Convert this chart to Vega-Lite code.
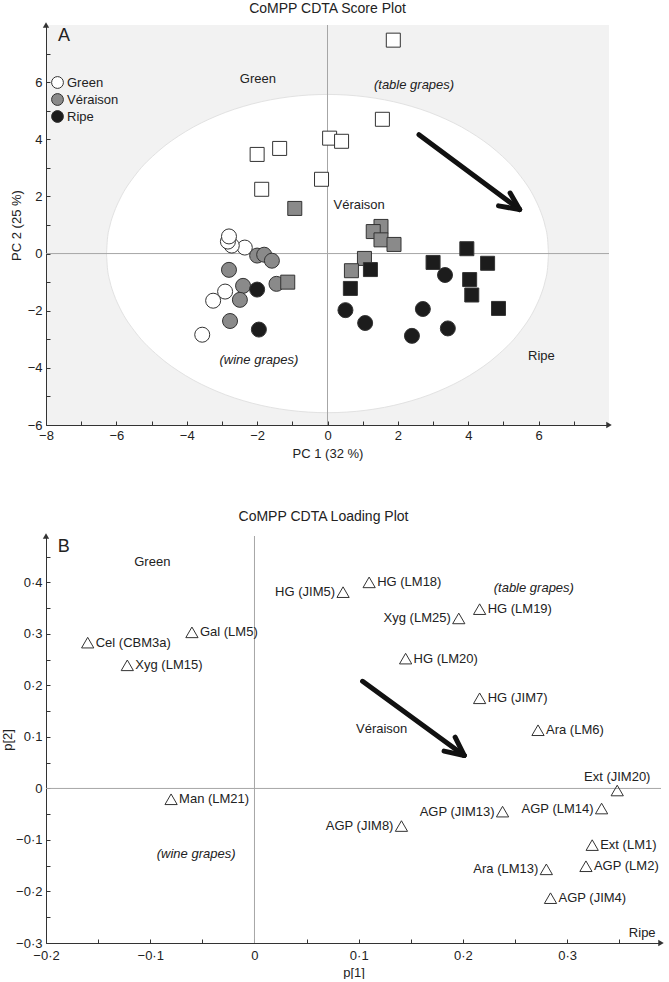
{
  "$schema": "https://vega.github.io/schema/vega-lite/v6.json",
  "padding": {"left": 1, "top": 2, "right": 0, "bottom": 0},
  "config": {
    "font": "Liberation Sans",
    "view": {"stroke": null},
    "axis": {"grid": false, "domainColor": "#333333", "tickColor": "#333333", "labelColor": "#222222", "titleColor": "#222222", "labelFontSize": 13, "titleFontSize": 13, "titleFontWeight": "normal", "tickSize": -4, "labelFlush": false, "labelOverlap": false, "domainWidth": 1, "tickWidth": 1},
    "axisX": {"labelPadding": 8},
    "axisY": {"labelPadding": 8},
    "title": {"fontSize": 14, "fontWeight": "normal", "color": "#222222"},
    "text": {"fontSize": 13, "color": "#222222"}
  },
  "datasets": {
    "ellipse": [
      {"x": -6.28, "y": 0, "y2": 0},
      {"x": -6.256, "y": 0.486, "y2": -0.486},
      {"x": -6.185, "y": 0.967, "y2": -0.967},
      {"x": -6.066, "y": 1.442, "y2": -1.442},
      {"x": -5.901, "y": 1.905, "y2": -1.905},
      {"x": -5.439, "y": 2.785, "y2": -2.785},
      {"x": -4.811, "y": 3.58, "y2": -3.58},
      {"x": -4.037, "y": 4.267, "y2": -4.267},
      {"x": -3.14, "y": 4.824, "y2": -4.824},
      {"x": -2.148, "y": 5.234, "y2": -5.234},
      {"x": -1.09, "y": 5.485, "y2": -5.485},
      {"x": 0, "y": 5.57, "y2": -5.57},
      {"x": 1.09, "y": 5.485, "y2": -5.485},
      {"x": 2.148, "y": 5.234, "y2": -5.234},
      {"x": 3.14, "y": 4.824, "y2": -4.824},
      {"x": 4.037, "y": 4.267, "y2": -4.267},
      {"x": 4.811, "y": 3.58, "y2": -3.58},
      {"x": 5.439, "y": 2.785, "y2": -2.785},
      {"x": 5.901, "y": 1.905, "y2": -1.905},
      {"x": 6.066, "y": 1.442, "y2": -1.442},
      {"x": 6.185, "y": 0.967, "y2": -0.967},
      {"x": 6.256, "y": 0.486, "y2": -0.486},
      {"x": 6.28, "y": 0, "y2": 0}
    ],
    "scoreZero": [
      {"x": 0, "y": -6, "x2": 0, "y2": 8},
      {"x": -8, "y": 0, "x2": 8, "y2": 0}
    ],
    "scores": [
      {"x": -2.91, "y": -1.33, "stage": "Green", "type": "wine"},
      {"x": -3.25, "y": -1.65, "stage": "Green", "type": "wine"},
      {"x": -3.56, "y": -2.84, "stage": "Green", "type": "wine"},
      {"x": -2.35, "y": 0.21, "stage": "Green", "type": "wine"},
      {"x": -2.72, "y": 0.28, "stage": "Green", "type": "wine"},
      {"x": -2.83, "y": 0.42, "stage": "Green", "type": "wine"},
      {"x": -2.8, "y": 0.6, "stage": "Green", "type": "wine"},
      {"x": -2.0, "y": -0.07, "stage": "Véraison", "type": "wine"},
      {"x": -1.8, "y": -0.04, "stage": "Véraison", "type": "wine"},
      {"x": -1.58, "y": -0.25, "stage": "Véraison", "type": "wine"},
      {"x": -2.8, "y": -0.57, "stage": "Véraison", "type": "wine"},
      {"x": -2.4, "y": -1.13, "stage": "Véraison", "type": "wine"},
      {"x": -1.45, "y": -1.06, "stage": "Véraison", "type": "wine"},
      {"x": -2.49, "y": -1.62, "stage": "Véraison", "type": "wine"},
      {"x": -2.77, "y": -2.36, "stage": "Véraison", "type": "wine"},
      {"x": -2.0, "y": -1.26, "stage": "Ripe", "type": "wine"},
      {"x": -1.95, "y": -2.66, "stage": "Ripe", "type": "wine"},
      {"x": 0.51, "y": -1.98, "stage": "Ripe", "type": "wine"},
      {"x": 1.07, "y": -2.43, "stage": "Ripe", "type": "wine"},
      {"x": 2.71, "y": -1.94, "stage": "Ripe", "type": "wine"},
      {"x": 2.4, "y": -2.88, "stage": "Ripe", "type": "wine"},
      {"x": 3.42, "y": -2.62, "stage": "Ripe", "type": "wine"},
      {"x": 3.34, "y": -0.75, "stage": "Ripe", "type": "wine"},
      {"x": -2.0, "y": 3.47, "stage": "Green", "type": "table"},
      {"x": -1.36, "y": 3.68, "stage": "Green", "type": "table"},
      {"x": -1.87, "y": 2.25, "stage": "Green", "type": "table"},
      {"x": -0.17, "y": 2.6, "stage": "Green", "type": "table"},
      {"x": 0.06, "y": 4.04, "stage": "Green", "type": "table"},
      {"x": 0.4, "y": 3.93, "stage": "Green", "type": "table"},
      {"x": 1.56, "y": 4.7, "stage": "Green", "type": "table"},
      {"x": 1.87, "y": 7.47, "stage": "Green", "type": "table"},
      {"x": -0.93, "y": 1.58, "stage": "Véraison", "type": "table"},
      {"x": -1.13, "y": -1.0, "stage": "Véraison", "type": "table"},
      {"x": 1.52, "y": 0.95, "stage": "Véraison", "type": "table"},
      {"x": 1.3, "y": 0.77, "stage": "Véraison", "type": "table"},
      {"x": 1.52, "y": 0.48, "stage": "Véraison", "type": "table"},
      {"x": 1.89, "y": 0.32, "stage": "Véraison", "type": "table"},
      {"x": 1.05, "y": -0.17, "stage": "Véraison", "type": "table"},
      {"x": 0.68, "y": -0.6, "stage": "Véraison", "type": "table"},
      {"x": 1.22, "y": -0.56, "stage": "Ripe", "type": "table"},
      {"x": 0.65, "y": -1.22, "stage": "Ripe", "type": "table"},
      {"x": 3.0, "y": -0.31, "stage": "Ripe", "type": "table"},
      {"x": 3.96, "y": 0.17, "stage": "Ripe", "type": "table"},
      {"x": 4.55, "y": -0.34, "stage": "Ripe", "type": "table"},
      {"x": 4.04, "y": -0.91, "stage": "Ripe", "type": "table"},
      {"x": 4.1, "y": -1.45, "stage": "Ripe", "type": "table"},
      {"x": 4.86, "y": -1.92, "stage": "Ripe", "type": "table"}
    ],
    "scoreText": [
      {"x": -1.98, "y": 6.12, "text": "Green"},
      {"x": 0.9, "y": 1.71, "text": "Véraison"},
      {"x": 6.08, "y": -3.6, "text": "Ripe"}
    ],
    "scoreItalic": [
      {"x": 2.46, "y": 5.91, "text": "(table grapes)"},
      {"x": -1.95, "y": -3.71, "text": "(wine grapes)"}
    ],
    "scoreArrow": [
      {"x": 2.6, "y": 4.16, "x2": 5.46, "y2": 1.54},
      {"x": 5.19, "y": 2.12, "x2": 5.46, "y2": 1.54},
      {"x": 4.86, "y": 1.67, "x2": 5.46, "y2": 1.54}
    ],
    "scorePanel": [{"x": -7.49, "y": 7.63, "text": "A"}],
    "scoreHeadUp": [{"x": -8, "y": 8}],
    "scoreHeadRight": [{"x": 8, "y": -6}],
    "loadZero": [
      {"x": 0, "y": -0.3, "x2": 0, "y2": 0.49},
      {"x": -0.2, "y": 0, "x2": 0.39, "y2": 0}
    ],
    "loadings": [
      {"label": "Cel (CBM3a)", "x": -0.16, "y": 0.283},
      {"label": "Gal (LM5)", "x": -0.06, "y": 0.303},
      {"label": "Xyg (LM15)", "x": -0.122, "y": 0.239},
      {"label": "HG (JIM5)", "x": 0.085, "y": 0.381},
      {"label": "HG (LM18)", "x": 0.11, "y": 0.4},
      {"label": "Xyg (LM25)", "x": 0.196, "y": 0.33},
      {"label": "HG (LM19)", "x": 0.216, "y": 0.348},
      {"label": "HG (LM20)", "x": 0.145, "y": 0.252},
      {"label": "HG (JIM7)", "x": 0.216, "y": 0.175},
      {"label": "Ara (LM6)", "x": 0.272, "y": 0.113},
      {"label": "Ext (JIM20)", "x": 0.348, "y": -0.004},
      {"label": "AGP (LM14)", "x": 0.333, "y": -0.039},
      {"label": "AGP (JIM13)", "x": 0.238, "y": -0.045},
      {"label": "AGP (JIM8)", "x": 0.141, "y": -0.073},
      {"label": "Ext (LM1)", "x": 0.324, "y": -0.11},
      {"label": "AGP (LM2)", "x": 0.318, "y": -0.151},
      {"label": "Ara (LM13)", "x": 0.28, "y": -0.157},
      {"label": "AGP (JIM4)", "x": 0.284, "y": -0.213},
      {"label": "Man (LM21)", "x": -0.08, "y": -0.021}
    ],
    "loadText": [
      {"x": -0.098, "y": 0.439, "text": "Green"},
      {"x": 0.122, "y": 0.115, "text": "Véraison"},
      {"x": 0.372, "y": -0.28, "text": "Ripe"}
    ],
    "loadItalic": [
      {"x": 0.268, "y": 0.39, "text": "(table grapes)"},
      {"x": -0.056, "y": -0.128, "text": "(wine grapes)"}
    ],
    "loadArrow": [
      {"x": 0.1037, "y": 0.208, "x2": 0.2012, "y2": 0.064},
      {"x": 0.1925, "y": 0.0996, "x2": 0.2012, "y2": 0.064},
      {"x": 0.1819, "y": 0.0724, "x2": 0.2012, "y2": 0.064}
    ],
    "loadPanel": [{"x": -0.183, "y": 0.468, "text": "B"}],
    "loadHeadUp": [{"x": -0.2, "y": 0.49}],
    "loadHeadRight": [{"x": 0.39, "y": -0.3}]
  },
  "columns": 1,
  "spacing": 50,
  "concat": [
    {
      "width": 563,
      "height": 400,
      "title": {"text": "CoMPP CDTA Score Plot", "offset": 6, "fontSize": 14, "fontWeight": "normal"},
      "view": {"fill": "#f2f2f2", "stroke": null},
      "encoding": {
        "x": {"field": "x", "type": "quantitative", "scale": {"domain": [-8, 8], "nice": false, "zero": false},
              "axis": {"title": "PC 1 (32 %)", "values": [-8, -7, -6, -5, -4, -3, -2, -1, 0, 1, 2, 3, 4, 5, 6, 7], "labelExpr": "datum.value % 2 === 0 ? datum.label : ''", "titlePadding": 5}},
        "y": {"field": "y", "type": "quantitative", "scale": {"domain": [-6, 8], "nice": false, "zero": false},
              "axis": {"title": "PC 2 (25 %)", "values": [-6, -5, -4, -3, -2, -1, 0, 1, 2, 3, 4, 5, 6, 7], "labelExpr": "datum.value % 2 === 0 ? datum.label : ''", "titlePadding": 4}}
      },
      "layer": [
        {"data": {"name": "ellipse"}, "mark": {"type": "area", "fill": "#ffffff", "stroke": "#e2e2e2", "strokeWidth": 1, "interpolate": "monotone"}, "encoding": {"y2": {"field": "y2"}}},
        {"data": {"name": "scoreZero"}, "mark": {"type": "rule", "color": "#a6a6a6", "strokeWidth": 1}, "encoding": {"x2": {"field": "x2"}, "y2": {"field": "y2"}}},
        {"data": {"name": "scores"}, "mark": {"type": "point", "filled": true, "opacity": 1, "stroke": "#333333", "strokeWidth": 1},
         "encoding": {
           "fill": {"field": "stage", "type": "nominal", "scale": {"domain": ["Green", "Véraison", "Ripe"], "range": ["#ffffff", "#8a8a8a", "#1c1c1c"]},
                    "legend": {"title": null, "orient": "none", "legendX": 5, "legendY": 51, "labelFontSize": 13, "labelColor": "#222222", "rowPadding": 0, "labelOffset": 3, "padding": 0, "symbolType": "circle", "symbolSize": 140, "symbolStrokeColor": "#333333", "symbolStrokeWidth": 1, "symbolOpacity": 1}},
           "shape": {"field": "type", "type": "nominal", "scale": {"domain": ["wine", "table"], "range": ["circle", "square"]}, "legend": null},
           "size": {"field": "type", "type": "ordinal", "scale": {"domain": ["wine", "table"], "range": [225, 196]}, "legend": null}
         }},
        {"data": {"name": "scoreText"}, "mark": {"type": "text", "fontSize": 13}, "encoding": {"text": {"field": "text"}}},
        {"data": {"name": "scoreItalic"}, "mark": {"type": "text", "fontSize": 13, "fontStyle": "italic"}, "encoding": {"text": {"field": "text"}}},
        {"data": {"name": "scorePanel"}, "mark": {"type": "text", "fontSize": 18}, "encoding": {"text": {"field": "text"}}},
        {"data": {"name": "scoreArrow"}, "mark": {"type": "rule", "color": "#111111", "strokeWidth": 5, "strokeCap": "round"}, "encoding": {"x2": {"field": "x2"}, "y2": {"field": "y2"}}},
        {"data": {"name": "scoreHeadUp"}, "mark": {"type": "point", "shape": "triangle-up", "filled": true, "color": "#333333", "size": 40, "opacity": 1}},
        {"data": {"name": "scoreHeadRight"}, "mark": {"type": "point", "shape": "triangle-right", "filled": true, "color": "#333333", "size": 40, "opacity": 1}}
      ]
    },
    {
      "width": 615,
      "height": 407,
      "title": {"text": "CoMPP CDTA Loading Plot", "offset": 9, "dx": -30, "fontSize": 14, "fontWeight": "normal"},
      "view": {"stroke": null},
      "encoding": {
        "x": {"field": "x", "type": "quantitative", "scale": {"domain": [-0.2, 0.39], "nice": false, "zero": false},
              "axis": {"title": "p[1]", "values": [-0.2, -0.15, -0.1, -0.05, 0, 0.05, 0.1, 0.15, 0.2, 0.25, 0.3, 0.35], "labelExpr": "abs(round(datum.value * 20)) % 2 == 0 ? (abs(datum.value) < 0.000001 ? '0' : replace(format(datum.value, '.1f'), '.', '·')) : ''", "labelPadding": 10, "titlePadding": 4}},
        "y": {"field": "y", "type": "quantitative", "scale": {"domain": [-0.3, 0.49], "nice": false, "zero": false},
              "axis": {"title": "p[2]", "values": [-0.3, -0.25, -0.2, -0.15, -0.1, -0.05, 0, 0.05, 0.1, 0.15, 0.2, 0.25, 0.3, 0.35, 0.4, 0.45], "labelExpr": "abs(round(datum.value * 20)) % 2 == 0 ? (abs(datum.value) < 0.000001 ? '0' : replace(format(datum.value, '.1f'), '.', '·')) : ''", "titlePadding": 1}}
      },
      "layer": [
        {"data": {"name": "loadZero"}, "mark": {"type": "rule", "color": "#a6a6a6", "strokeWidth": 1}, "encoding": {"x2": {"field": "x2"}, "y2": {"field": "y2"}}},
        {"data": {"name": "loadings"}, "mark": {"type": "point", "shape": "triangle-up", "filled": false, "stroke": "#333333", "strokeWidth": 1, "size": 150, "opacity": 1}},
        {"data": {"name": "loadings"}, "transform": [{"filter": {"field": "label", "oneOf": ["Cel (CBM3a)", "Gal (LM5)", "Xyg (LM15)", "HG (LM18)", "HG (LM19)", "HG (LM20)", "HG (JIM7)", "Ara (LM6)", "Ext (LM1)", "AGP (LM2)", "AGP (JIM4)", "Man (LM21)"]}}],
         "mark": {"type": "text", "fontSize": 13, "align": "left", "dx": 8}, "encoding": {"text": {"field": "label"}}},
        {"data": {"name": "loadings"}, "transform": [{"filter": {"field": "label", "oneOf": ["HG (JIM5)", "Xyg (LM25)", "AGP (LM14)", "AGP (JIM13)", "AGP (JIM8)", "Ara (LM13)"]}}],
         "mark": {"type": "text", "fontSize": 13, "align": "right", "dx": -8}, "encoding": {"text": {"field": "label"}}},
        {"data": {"name": "loadings"}, "transform": [{"filter": {"field": "label", "oneOf": ["Ext (JIM20)"]}}],
         "mark": {"type": "text", "fontSize": 13, "align": "center", "dy": -14}, "encoding": {"text": {"field": "label"}}},
        {"data": {"name": "loadText"}, "mark": {"type": "text", "fontSize": 13}, "encoding": {"text": {"field": "text"}}},
        {"data": {"name": "loadItalic"}, "mark": {"type": "text", "fontSize": 13, "fontStyle": "italic"}, "encoding": {"text": {"field": "text"}}},
        {"data": {"name": "loadPanel"}, "mark": {"type": "text", "fontSize": 18}, "encoding": {"text": {"field": "text"}}},
        {"data": {"name": "loadArrow"}, "mark": {"type": "rule", "color": "#111111", "strokeWidth": 5, "strokeCap": "round"}, "encoding": {"x2": {"field": "x2"}, "y2": {"field": "y2"}}},
        {"data": {"name": "loadHeadUp"}, "mark": {"type": "point", "shape": "triangle-up", "filled": true, "color": "#333333", "size": 40, "opacity": 1}},
        {"data": {"name": "loadHeadRight"}, "mark": {"type": "point", "shape": "triangle-right", "filled": true, "color": "#333333", "size": 40, "opacity": 1}}
      ]
    }
  ]
}
